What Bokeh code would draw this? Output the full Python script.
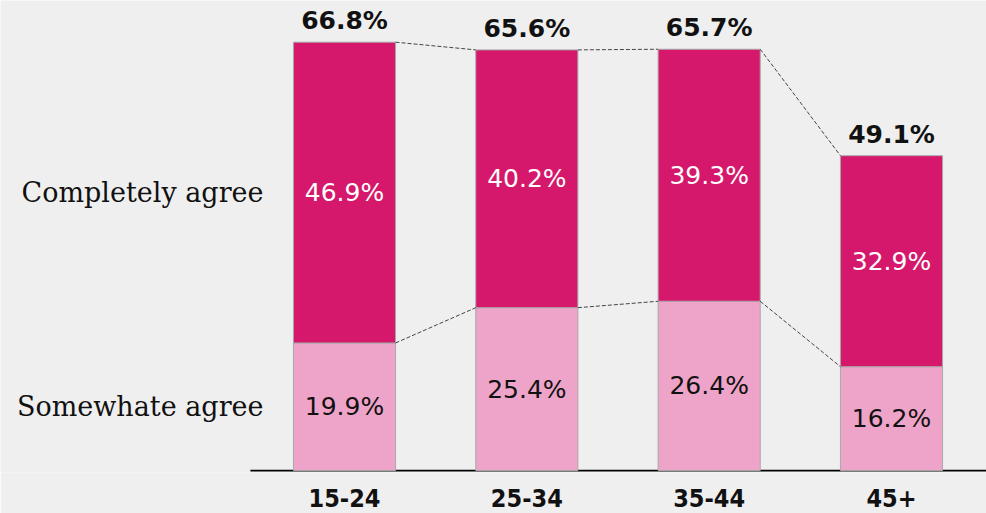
from bokeh.plotting import figure
from bokeh.models import FixedTicker, ColumnDataSource
from bokeh.core.properties import value
from bokeh.embed import file_html
from bokeh.resources import INLINE

categories = ["15-24", "25-34", "35-44", "45+"]
somewhat = [19.9, 25.4, 26.4, 16.2]
completely = [46.9, 40.2, 39.3, 32.9]
totals = [66.8, 65.6, 65.7, 49.1]
series_names = ["Completely agree", "Somewhate agree"]

BG = "#efefef"
MAGENTA = "#d5186b"
PINK = "#eea4c8"
W = 0.56
X0, X1 = -1.3867, 4.021
BASE_X0 = -0.016

xs = [i + 0.5 for i in range(len(categories))]

p = figure(width=986, height=513, output_backend="svg", toolbar_location=None,
           x_range=(X0, X1), y_range=(-0.3, 73.3),
           min_border_left=0, min_border_right=0, min_border_top=0, min_border_bottom=41)
p.background_fill_color = BG
p.border_fill_color = BG
p.outline_line_color = None
p.grid.visible = False
p.yaxis.visible = False

ax = p.xaxis[0]
ax.ticker = FixedTicker(ticks=xs)
ax.major_label_overrides = {x: c for x, c in zip(xs, categories)}
ax.major_tick_line_color = None
ax.minor_tick_line_color = None
ax.axis_line_color = None
ax.major_label_standoff = 10
ax.major_label_text_font = "DejaVu Sans Condensed"
ax.major_label_text_font_style = "bold"
ax.major_label_text_font_size = "25px"
ax.major_label_text_color = "#111111"

# baseline
p.segment(x0=[BASE_X0], y0=[0], x1=[X1], y1=[0], line_color="black", line_width=1.6)

src = ColumnDataSource(dict(
    x=xs, somewhat=somewhat, completely=completely, totals=totals,
    mid_low=[s / 2 for s in somewhat],
    mid_high=[s + c / 2 for s, c in zip(somewhat, completely)],
    lab_low=[f"{v:.1f}%" for v in somewhat],
    lab_high=[f"{v:.1f}%" for v in completely],
    lab_tot=[f"{v:.1f}%" for v in totals],
))

p.vbar(x="x", bottom=0, top="somewhat", width=W, source=src,
       fill_color=PINK, line_color="#a8a8a8", line_width=1)
p.vbar(x="x", bottom="somewhat", top="totals", width=W, source=src,
       fill_color=MAGENTA, line_color="#a8a8a8", line_width=1)

# dashed connectors
for vals in (totals, somewhat):
    x0 = [xs[i] + W / 2 for i in range(len(xs) - 1)]
    x1 = [xs[i + 1] - W / 2 for i in range(len(xs) - 1)]
    p.segment(x0=x0, y0=vals[:-1], x1=x1, y1=vals[1:], line_color="#444444",
              line_width=1, line_dash="4 2")

p.text(x="x", y="mid_low", text="lab_low", source=src, text_align="center",
       text_baseline="middle", text_color="#111111", text_font=value("DejaVu Sans"),
       text_font_size="25px")
p.text(x="x", y="mid_high", text="lab_high", source=src, text_align="center",
       text_baseline="middle", text_color="white", text_font=value("DejaVu Sans"),
       text_font_size="25px")
p.text(x="x", y="totals", text="lab_tot", source=src, text_align="center",
       text_baseline="bottom", y_offset=-7, text_color="#111111",
       text_font=value("DejaVu Sans"), text_font_style="bold", text_font_size="25px")

# series labels at the left, aligned with the first bar's segments
p.text(x=[xs[0], xs[0]], y=[somewhat[0] + completely[0] / 2, somewhat[0] / 2],
       text=series_names, x_offset=-81, text_align="right", text_baseline="middle",
       text_color="#111111", text_font=value("DejaVu Serif"), text_font_size="27px")

open("out.html", "w").write(file_html(p, INLINE))
